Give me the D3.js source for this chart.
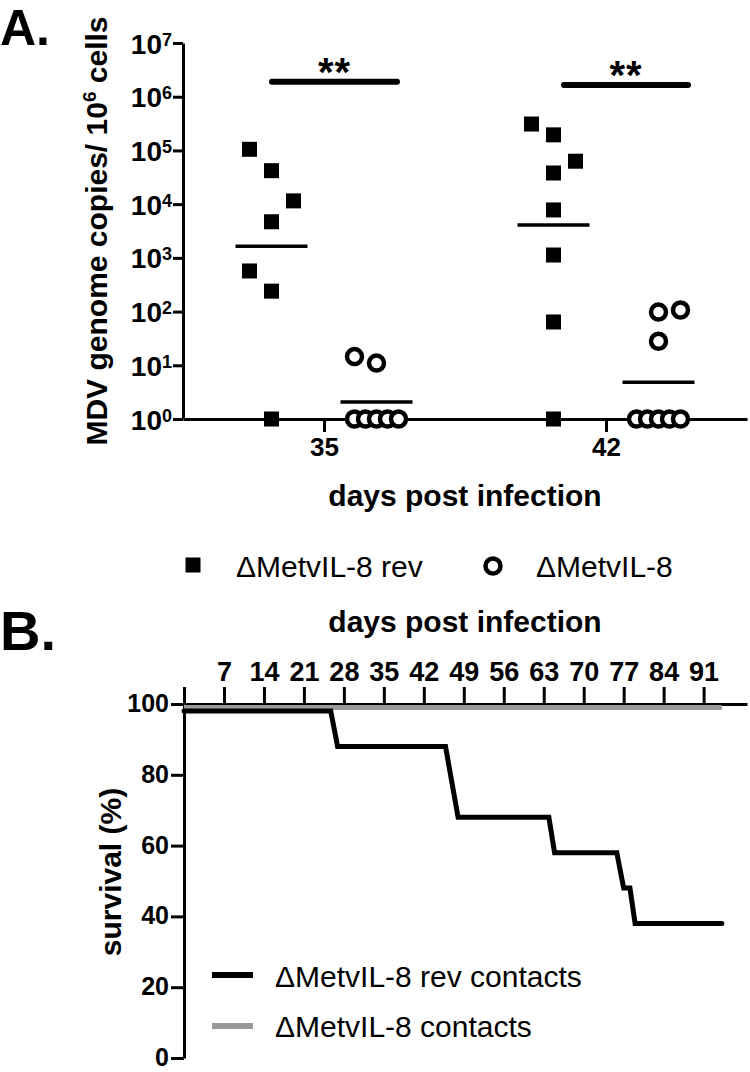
<!DOCTYPE html>
<html><head><meta charset="utf-8">
<script src="https://cdn.jsdelivr.net/npm/d3@7"></script>
<style>
body{margin:0;background:#fff}
svg{display:block}
text{font-family:"Liberation Sans",Arial,Helvetica,sans-serif;fill:#000}
</style>
</head><body>
<svg id="chart" width="750" height="1072"></svg>
<script>
// ---------------- Panel A data ----------------
const daysA = ["35", "42"];
const groupsA = ["ΔMetvIL-8 rev", "ΔMetvIL-8"];
const rev35 = [1.05e5, 4.2e4, 1.15e4, 4.7e3, 570, 240, 1];
const del35 = [14.5, 11, 1, 1, 1, 1, 1];
const rev42 = [3.1e5, 1.95e5, 6.3e4, 3.8e4, 7.8e3, 1.13e3, 64, 1];
const del42 = [98, 107, 28, 1, 1, 1, 1, 1];
const sigLevels = [1.9e6, 1.65e6];
const sigLabels = ["**", "**"];
const yTickExpA = [0, 1, 2, 3, 4, 5, 6, 7];

// ---------------- Panel B data ----------------
const survDaysRev = [0, 25.7, 26.9, 45.8, 48.0, 63.9, 64.9, 75.8, 77.0, 78.1, 79.0, 94.2];
const survRev     = [98, 98, 88, 88, 68, 68, 58, 58, 48, 48, 38, 38];
const survDaysDel = [0, 94.2];
const survDel     = [99, 99];
const seriesB = ["ΔMetvIL-8 rev contacts", "ΔMetvIL-8 contacts"];
const xTicksB = [0, 7, 14, 21, 28, 35, 42, 49, 56, 63, 70, 77, 84, 91];
const yTicksB = [0, 20, 40, 60, 80, 100];

// layout helpers (beeswarm slot per point)
const slots = {
  "35|0": [-2, 0, 2, 0, -2, 0, 0],
  "35|1": [-2, 0, -2, -1, 0, 1, 2],
  "42|0": [-2, 0, 2, 0, 0, 0, 0, 0],
  "42|1": [0, 2, 0, -2, -1, 0, 1, 2]
};
const sigSpan = [[-52, 73], [-42, 82]];

const svg = d3.select("#chart");
const AX = 3;

// ================= Panel A =================
const xA = d3.scalePoint().domain(daysA).range([183, 747]).padding(0.5);
const subA = d3.scalePoint().domain(groupsA).range([-52.5, 52.5]);
const yA = d3.scaleLog().domain([1, 1e7]).range([419, 43]);

svg.append("text").attr("x", 0).attr("y", 45).attr("font-size", 50)
  .attr("font-weight", "bold").text("A.");

// y axis
const gyA = svg.append("g").attr("transform", "translate(183,0)")
  .call(d3.axisLeft(yA).tickValues(yTickExpA.map(e => Math.pow(10, e)))
    .tickSize(10).tickSizeOuter(0).tickFormat(""));
gyA.select(".domain").attr("stroke-width", AX);
gyA.selectAll(".tick line").attr("stroke-width", AX);
gyA.selectAll(".tick").each(function(d) {
  const t = d3.select(this).append("text").attr("x", -11).attr("y", 10)
    .attr("text-anchor", "end").attr("font-size", 28).attr("font-weight", "bold");
  t.append("tspan").text("10");
  t.append("tspan").attr("dy", -8).attr("font-size", 18).text(Math.round(Math.log10(d)));
});

// x axis
const gxA = svg.append("g").attr("transform", "translate(0,419)")
  .call(d3.axisBottom(xA).tickSize(13).tickSizeOuter(0));
gxA.select(".domain").attr("stroke-width", AX);
gxA.selectAll(".tick line").attr("stroke-width", AX);
gxA.selectAll(".tick text").attr("y", 37).attr("dy", 0).attr("font-size", 26)
  .attr("font-weight", "bold").attr("font-family", "Liberation Sans, Arial, sans-serif");

// y label
const yl = svg.append("text").attr("transform", "translate(107,231) rotate(-90)")
  .attr("text-anchor", "middle").attr("font-size", 30).attr("font-weight", "bold");
yl.append("tspan").text("MDV genome copies/ 10");
yl.append("tspan").attr("dy", -11).attr("font-size", 19).text("6");
yl.append("tspan").attr("dy", 11).text(" cells");

// x title
svg.append("text").attr("x", 465).attr("y", 506).attr("text-anchor", "middle")
  .attr("font-size", 30).attr("font-weight", "bold").text("days post infection");

// points
const dataA = {"35|0": rev35, "35|1": del35, "42|0": rev42, "42|1": del42};
daysA.forEach((day, di) => {
  groupsA.forEach((g, gi) => {
    const vals = dataA[day + "|" + gi];
    const cx = xA(day) + subA(g);
    const pts = vals.map((v, i) => ({v, x: cx + slots[day + "|" + gi][i] * 11, y: yA(v)}));
    if (gi === 0) {
      svg.append("g").selectAll("rect").data(pts).join("rect")
        .attr("x", d => d.x - 7.5).attr("y", d => d.y - 7.5)
        .attr("width", 15).attr("height", 15).attr("fill", "#000");
    } else {
      svg.append("g").selectAll("circle").data(pts).join("circle")
        .attr("cx", d => d.x).attr("cy", d => d.y).attr("r", 7.5)
        .attr("fill", "#fff").attr("stroke", "#000").attr("stroke-width", 4.5);
    }
    const gm = Math.pow(10, d3.mean(vals, v => Math.log10(v)));
    svg.append("line").attr("x1", cx - 36).attr("x2", cx + 36)
      .attr("y1", yA(gm)).attr("y2", yA(gm)).attr("stroke", "#000").attr("stroke-width", 3.5);
  });
  // significance bar
  const sy = yA(sigLevels[di]);
  svg.append("line").attr("x1", xA(day) + sigSpan[di][0]).attr("x2", xA(day) + sigSpan[di][1])
    .attr("y1", sy).attr("y2", sy).attr("stroke", "#000").attr("stroke-width", 6)
    .attr("stroke-linecap", "round");
  svg.append("text").attr("x", (xA(day) * 2 + sigSpan[di][0] + sigSpan[di][1]) / 2)
    .attr("y", sy + 4).attr("text-anchor", "middle").attr("font-size", 40)
    .attr("font-weight", "bold").attr("letter-spacing", 1).text(sigLabels[di]);
});

// legend A
svg.append("rect").attr("x", 185.5).attr("y", 557.5).attr("width", 15).attr("height", 15).attr("fill", "#000");
svg.append("text").attr("x", 236).attr("y", 577).attr("font-size", 30).text(groupsA[0]);
svg.append("circle").attr("cx", 493).attr("cy", 566).attr("r", 7.5)
  .attr("fill", "#fff").attr("stroke", "#000").attr("stroke-width", 4.5);
svg.append("text").attr("x", 536).attr("y", 577).attr("font-size", 30).text(groupsA[1]);

// ================= Panel B =================
const xB = d3.scaleLinear().domain([0, 98.6]).range([184, 747]);
const yB = d3.scaleLinear().domain([0, 100]).range([1058, 704]);

svg.append("text").attr("x", 0).attr("y", 650).attr("font-size", 56)
  .attr("font-weight", "bold").text("B.");

svg.append("text").attr("x", 465).attr("y", 632).attr("text-anchor", "middle")
  .attr("font-size", 30).attr("font-weight", "bold").text("days post infection");

const gxB = svg.append("g").attr("transform", "translate(0," + yB(100) + ")")
  .call(d3.axisTop(xB).tickValues(xTicksB).tickSize(17).tickSizeOuter(0)
    .tickFormat(d => d === 0 ? "" : d));
gxB.select(".domain").attr("stroke-width", AX);
gxB.selectAll(".tick line").attr("stroke-width", AX);
gxB.selectAll(".tick text").attr("y", -23).attr("dy", 0).attr("font-size", 27)
  .attr("font-weight", "bold").attr("font-family", "Liberation Sans, Arial, sans-serif");

const gyB = svg.append("g").attr("transform", "translate(" + xB(0) + ",0)")
  .call(d3.axisLeft(yB).tickValues(yTicksB).tickSize(13).tickSizeOuter(0));
gyB.select(".domain").attr("stroke-width", AX);
gyB.selectAll(".tick line").attr("stroke-width", AX);
gyB.selectAll(".tick text").attr("x", -15).attr("dy", "0.3em").attr("font-size", 25)
  .attr("font-weight", "bold").attr("font-family", "Liberation Sans, Arial, sans-serif");

svg.append("text").attr("transform", "translate(121,872) rotate(-90)")
  .attr("text-anchor", "middle").attr("font-size", 30).attr("font-weight", "bold")
  .text("survival (%)");

const lineB = d3.line().x(d => xB(d[0])).y(d => yB(d[1]));
svg.append("path").datum(d3.zip(survDaysDel, survDel)).attr("d", lineB)
  .attr("fill", "none").attr("stroke", "#999").attr("stroke-width", 5);
svg.append("path").datum(d3.zip(survDaysRev, survRev)).attr("d", lineB)
  .attr("fill", "none").attr("stroke", "#000").attr("stroke-width", 5)
  .attr("stroke-linejoin", "miter").attr("stroke-linecap", "round");

// legend B
svg.append("line").attr("x1", 212).attr("x2", 253).attr("y1", 975).attr("y2", 975)
  .attr("stroke", "#000").attr("stroke-width", 6);
svg.append("text").attr("x", 275).attr("y", 987).attr("font-size", 30).text(seriesB[0]);
svg.append("line").attr("x1", 212).attr("x2", 253).attr("y1", 1026).attr("y2", 1026)
  .attr("stroke", "#999").attr("stroke-width", 6);
svg.append("text").attr("x", 275).attr("y", 1037).attr("font-size", 30).text(seriesB[1]);
</script>
</body></html>
